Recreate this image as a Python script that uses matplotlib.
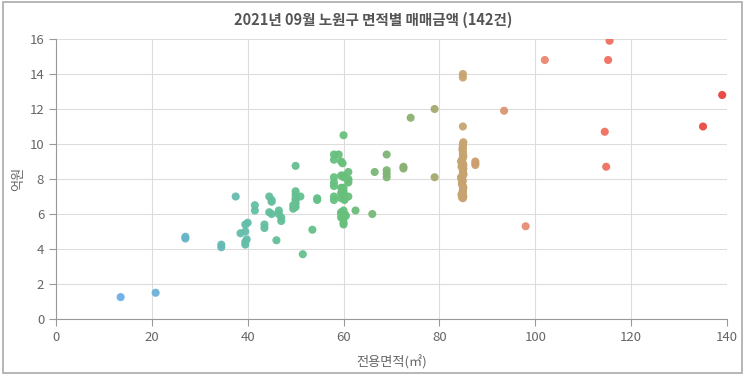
import matplotlib
matplotlib.use("Agg")
import matplotlib.pyplot as plt
from matplotlib.colors import LinearSegmentedColormap
from matplotlib.patches import Rectangle

plt.rcParams['font.family'] = ['Noto Sans CJK KR', 'DejaVu Sans']

# ----------------- data -----------------
area = [
    13.5, 20.8,
    27.0, 27.0,
    34.5, 34.5,
    37.5,
    38.5, 39.5, 39.5, 40.0, 39.5, 39.5, 39.8,
    41.5, 41.5,
    43.5, 43.5,
    44.5, 44.5, 45.0, 45.0, 45.0,
    46.0,
    46.5, 46.5, 47.0, 47.0,
    50.0, 50.0, 50.0, 50.0, 49.5, 49.5, 50.0, 51.0, 50.0, 50.0,
    51.5, 53.5, 54.5, 54.5,
    58.0, 58.0, 59.0, 59.5, 60.0,
    58.0, 58.0, 58.0, 58.0, 58.0,
    59.5, 60.0, 61.0, 61.0, 61.0, 61.0,
    59.5, 60.0, 59.8, 60.0, 60.3, 59.5, 61.0, 59.8, 60.0, 60.2,
    59.5, 59.5, 60.0, 60.0, 60.0, 60.5, 60.0, 59.5, 60.2,
    59.8, 60.0, 60.0, 59.5,
    62.5, 66.0,
    66.5, 69.0, 69.0, 69.0, 69.0,
    72.5, 72.5,
    74.0, 79.0, 79.0,
    84.9, 84.9, 84.9,
    85.0, 84.9, 84.8, 84.9, 85.0, 84.7, 84.9, 84.6, 84.9, 85.0,
    84.5, 84.9, 84.7, 85.0, 84.9, 84.6, 84.9, 84.9, 84.5, 85.0,
    84.9, 84.7, 84.9, 85.0, 84.8, 84.9, 84.6, 84.9, 85.0, 84.9,
    84.9, 84.7, 84.9, 84.9, 85.0, 84.8, 84.9, 84.9,
    87.5, 87.5, 87.5,
    93.5, 98.0, 102.0,
    114.5, 114.8, 115.5, 115.2,
    135.0, 139.0,
]
price = [
    1.25, 1.5,
    4.6, 4.7,
    4.1, 4.25,
    7.0,
    4.9, 5.0, 5.4, 5.5, 4.4, 4.25, 4.55,
    6.5, 6.2,
    5.4, 5.2,
    7.0, 6.1, 6.8, 6.7, 6.0,
    4.5,
    6.2, 6.0, 5.6, 5.8,
    8.75, 7.3, 7.1, 6.9, 6.5, 6.3, 6.4, 7.0, 6.6, 6.8,
    3.7, 5.1, 6.9, 6.8,
    9.4, 9.1, 9.4, 9.0, 10.5,
    8.1, 7.6, 7.0, 6.8, 7.8,
    8.2, 8.2, 8.4, 7.9, 8.0, 7.8,
    7.5, 7.3, 7.2, 7.0, 6.9, 6.9, 7.0, 7.4, 7.1, 6.8,
    6.0, 5.8, 6.2, 5.5, 5.7, 5.9, 5.4, 6.1, 6.0,
    8.9, 8.1, 7.5, 7.2,
    6.2, 6.0,
    8.4, 9.4, 8.5, 8.3, 8.1,
    8.6, 8.7,
    11.5, 12.0, 8.1,
    14.0, 13.8, 11.0,
    10.1, 9.9, 9.7, 9.5, 9.3, 9.1, 8.9, 8.7, 8.5, 8.3,
    8.1, 7.9, 7.7, 7.5, 7.3, 7.1, 6.9, 9.8, 9.0, 8.6,
    8.2, 7.8, 7.4, 7.0, 7.2, 7.6, 8.0, 8.4, 8.8, 9.2,
    9.6, 6.95, 7.15, 7.35, 8.25, 8.75, 9.4, 10.0,
    9.0, 8.8, 8.9,
    11.9, 5.3, 14.8,
    10.7, 8.7, 15.9, 14.8,
    11.0, 12.8,
]

title = "2021년 09월 노원구 면적별 매매금액 (142건)"
x_ticks = [0, 20, 40, 60, 80, 100, 120, 140]
y_ticks = [0, 2, 4, 6, 8, 10, 12, 14, 16]

# colour follows area: blue -> teal -> green -> tan -> red
cmap = LinearSegmentedColormap.from_list("area", [
    (0.00, "#6aaee8"),
    (0.12, "#68b6c6"),
    (0.22, "#62bfa6"),
    (0.37, "#66c07c"),
    (0.50, "#93ad6e"),
    (0.57, "#c6a470"),
    (0.68, "#e88c72"),
    (0.80, "#f07262"),
    (1.00, "#e8423a"),
])

fig = plt.figure(figsize=(7.46, 3.76), dpi=100)
ax = fig.add_axes([0.075, 0.1516, 0.8995, 0.7447])

ax.scatter(area, price, c=area, cmap=cmap, vmin=13, vmax=139,
           s=34, linewidths=0, alpha=0.95, zorder=3)

ax.set_xlim(0, 140)
ax.set_ylim(0, 16)
ax.set_xticks(x_ticks)
ax.set_yticks(y_ticks)
ax.grid(True, color="#dddddd", linewidth=0.8, zorder=0)
for s in ["top", "right"]:
    ax.spines[s].set_visible(False)
for s in ["left", "bottom"]:
    ax.spines[s].set_color("#999999")
    ax.spines[s].set_linewidth(0.8)
ax.tick_params(colors="#999999", labelcolor="#666666", labelsize=9.5,
               length=5, width=0.8)

ax.set_xlabel("전용면적(㎡)", color="#666666", fontsize=9.5, labelpad=8)
ax.set_ylabel("억원", color="#666666", fontsize=9.5, labelpad=3)
fig.text(0.5, 0.948, title, ha="center", va="center", fontsize=10.5,
         fontweight="bold", color="#555555")

fig.patches.append(Rectangle((0.004, 0.008), 0.99, 0.987, transform=fig.transFigure,
                             fill=False, edgecolor="#aaaaaa", linewidth=1.2))

plt.savefig("out.png", dpi=100)
plt.close(fig)
